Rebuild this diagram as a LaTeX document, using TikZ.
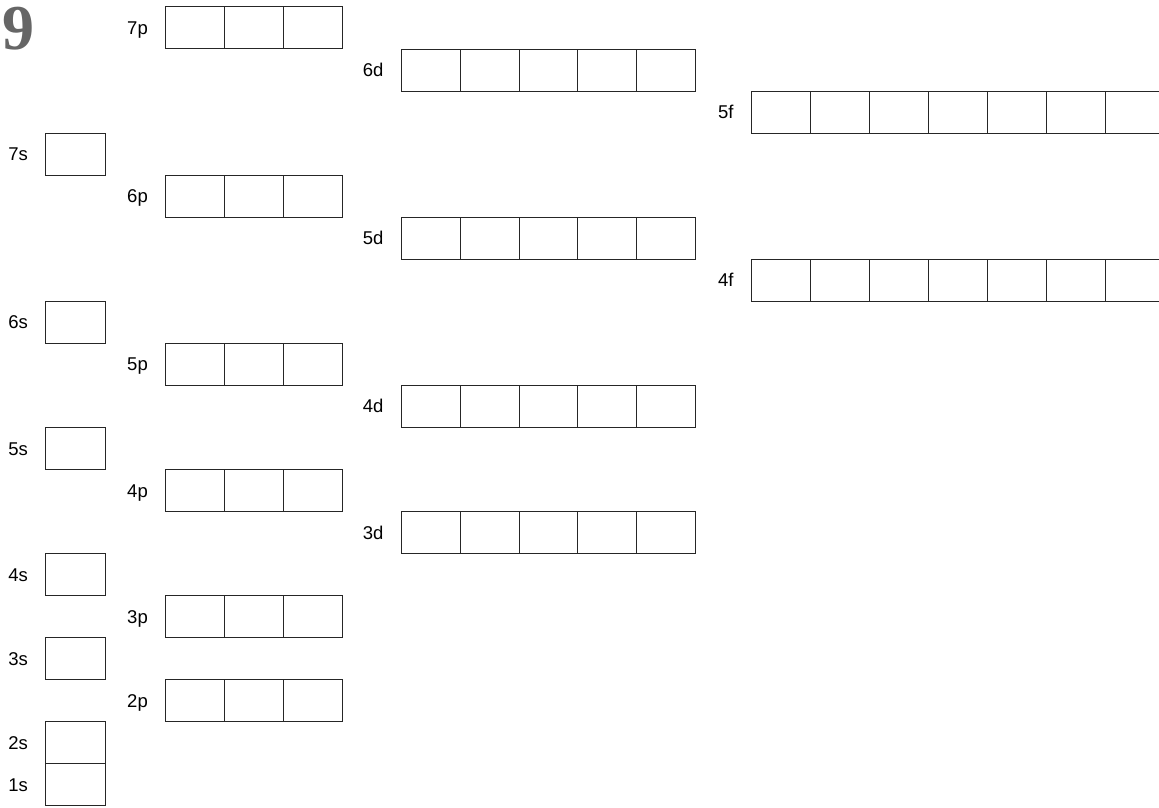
\documentclass[tikz,border=0pt]{standalone}
\usepackage{fontspec}
\setmainfont{Liberation Sans}
\newfontfamily\digitfont{Liberation Serif}
\newcommand\orbrow[5]{%
  \pgfmathsetmacro\ytop{6.5+42.05*#3}%
  \foreach \i in {1,...,#4}{%
    \node[orb, minimum width=#5pt] (#1-\i) at ({#2+(\i-1)*#5}, \ytop) {};
  }%
  \node[lbl] (#1-lab) at ([xshift=-17pt, yshift=-6.5pt]#1-1.west) {#1};
}
\begin{document}
\begin{tikzpicture}[x=1pt,y=-1pt,
  orb/.style={draw=black!85, line width=1pt, minimum height=42pt, inner sep=0pt, anchor=north west},
  lbl/.style={font=\fontsize{18.5}{18.5}\selectfont, anchor=base east, inner sep=0pt, text=black}]
\useasboundingbox (0,0) rectangle (1159,808);
\fill[white] (0,0) rectangle (1159,808);
\node[font=\digitfont\bfseries\fontsize{64}{64}\selectfont, text=black!60, anchor=base west, inner sep=0pt] (nine) at (2,49) {9};
\orbrow{7p}{165}{0}{3}{58.9}
\orbrow{6d}{400.7}{1}{5}{58.9}
\orbrow{5f}{750.7}{2}{7}{59}
\orbrow{7s}{45}{3}{1}{60.3}
\orbrow{6p}{165}{4}{3}{58.9}
\orbrow{5d}{400.7}{5}{5}{58.9}
\orbrow{4f}{750.7}{6}{7}{59}
\orbrow{6s}{45}{7}{1}{60.3}
\orbrow{5p}{165}{8}{3}{58.9}
\orbrow{4d}{400.7}{9}{5}{58.9}
\orbrow{5s}{45}{10}{1}{60.3}
\orbrow{4p}{165}{11}{3}{58.9}
\orbrow{3d}{400.7}{12}{5}{58.9}
\orbrow{4s}{45}{13}{1}{60.3}
\orbrow{3p}{165}{14}{3}{58.9}
\orbrow{3s}{45}{15}{1}{60.3}
\orbrow{2p}{165}{16}{3}{58.9}
\orbrow{2s}{45}{17}{1}{60.3}
\orbrow{1s}{45}{18}{1}{60.3}
\end{tikzpicture}
\end{document}
